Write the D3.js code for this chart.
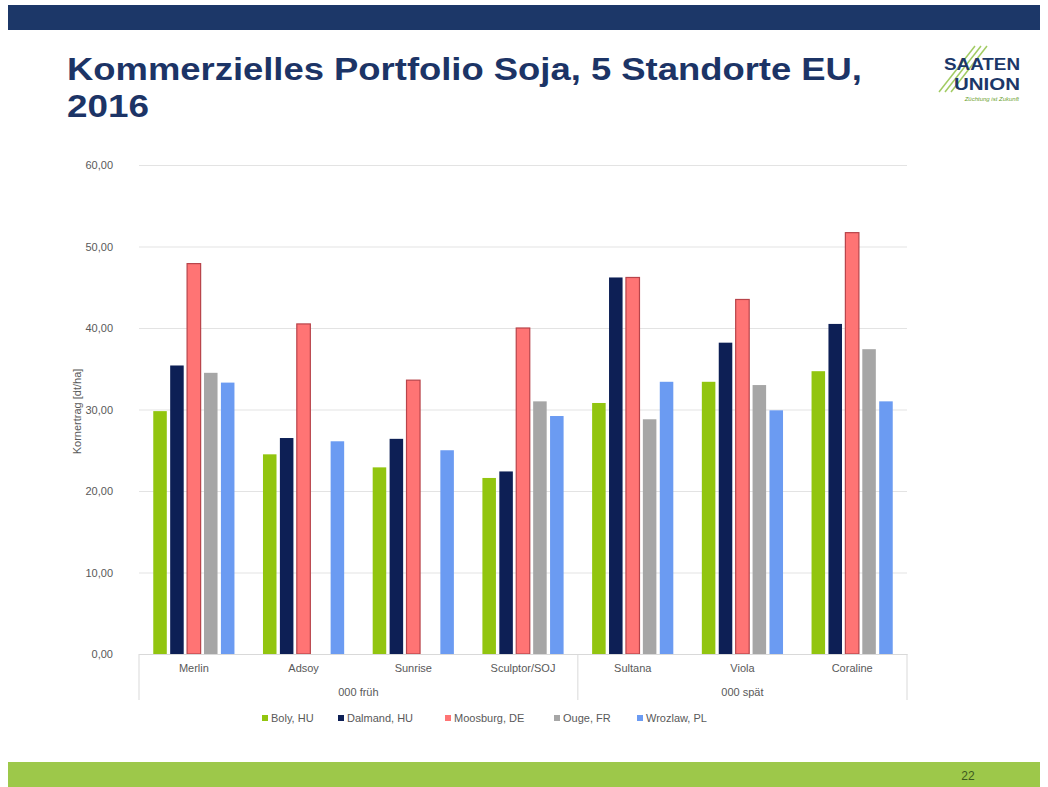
<!DOCTYPE html>
<html>
<head>
<meta charset="utf-8">
<script src="https://cdn.jsdelivr.net/npm/d3@7"></script>
<style>
  body { margin: 0; background: #fff; }
  svg { display: block; font-family: "Liberation Sans", Arial, sans-serif; }
</style>
</head>
<body>
<svg id="slide"></svg>
<script>
// Kornertrag [dt/ha] je Sorte und Standort
const categories = ["Merlin", "Adsoy", "Sunrise", "Sculptor/SOJ", "Sultana", "Viola", "Coraline"];
const groups = [
    {name: "000 früh", cats: ["Merlin", "Adsoy", "Sunrise", "Sculptor/SOJ"]},
    {name: "000 spät", cats: ["Sultana", "Viola", "Coraline"]}
];
const series = ["Boly, HU", "Dalmand, HU", "Moosburg, DE", "Ouge, FR", "Wrozlaw, PL"];
const boly     = [29.8, 24.5, 22.9, 21.6, 30.8, 33.4, 34.7];
const dalmand  = [35.4, 26.5, 26.4, 22.4, 46.2, 38.2, 40.5];
const moosburg = [47.9, 40.5, 33.6, 40.0, 46.2, 43.5, 51.7];
const ouge     = [34.5, null, null, 31.0, 28.8, 33.0, 37.4];
const wrozlaw  = [33.3, 26.1, 25.0, 29.2, 33.4, 29.9, 31.0];
const yTicks = [0, 10, 20, 30, 40, 50, 60];

const colors = ["#92c50f", "#0d1f55", "#ff7474", "#a6a6a6", "#6b9bf2"];
const strokes = [null, null, "#b8444a", null, null];

const W = 1048, H = 787;
const svg = d3.select("#slide").attr("width", W).attr("height", H);

// slide frame
svg.append("rect").attr("x", 8).attr("y", 5).attr("width", 1032).attr("height", 25).attr("fill", "#1c3768");
svg.append("rect").attr("x", 8).attr("y", 762).attr("width", 1032).attr("height", 25).attr("fill", "#9dc84a");
svg.append("text").attr("x", 968).attr("y", 780).attr("text-anchor", "middle")
    .attr("font-size", 12).attr("fill", "#3d5a1e").text("22");

// title
const title = svg.append("g").attr("fill", "#1c3466").attr("font-weight", "bold").attr("font-size", 31);
title.append("text").attr("x", 67).attr("y", 80)
    .attr("textLength", 795).attr("lengthAdjust", "spacingAndGlyphs")
    .text("Kommerzielles Portfolio Soja, 5 Standorte EU,");
title.append("text").attr("x", 67).attr("y", 117)
    .attr("textLength", 82).attr("lengthAdjust", "spacingAndGlyphs")
    .text("2016");

// logo
const logo = svg.append("g").attr("transform", "translate(935,40)");
[0, 6, 12].forEach(o => {
    logo.append("line").attr("x1", 4 + o).attr("y1", 52).attr("x2", 40 + o).attr("y2", 6)
        .attr("stroke", "#8bbf3c").attr("stroke-width", 1.5).attr("opacity", 0.8);
});
logo.append("text").attr("x", 85).attr("y", 30).attr("text-anchor", "end")
    .attr("font-weight", "bold").attr("font-size", 17).attr("fill", "#1c3768")
    .attr("textLength", 76).attr("lengthAdjust", "spacingAndGlyphs").text("SAATEN");
logo.append("text").attr("x", 85).attr("y", 50).attr("text-anchor", "end")
    .attr("font-weight", "bold").attr("font-size", 17).attr("fill", "#1c3768")
    .attr("textLength", 66).attr("lengthAdjust", "spacingAndGlyphs").text("UNION");
logo.append("text").attr("x", 84).attr("y", 61).attr("text-anchor", "end")
    .attr("font-size", 6).attr("font-style", "italic").attr("fill", "#6aa02c")
    .text("Züchtung ist Zukunft");

// chart
const pLeft = 139, pRight = 907, pTop = 165, pBottom = 654;
const locale = d3.formatLocale({decimal: ",", thousands: ".", grouping: [3], currency: ["", " €"]});
const fmt = locale.format(".2f");

const x0 = d3.scaleBand().domain(categories).range([pLeft, pRight]).padding(0);
const x1 = d3.scaleBand().domain(series)
    .range([x0.bandwidth() * 0.13, x0.bandwidth() * 0.87]).paddingInner(0.2);
const y = d3.scaleLinear().domain([0, 60]).range([pBottom, pTop]);

const chart = svg.append("g");

chart.append("g")
    .attr("transform", `translate(${pLeft},0)`)
    .call(d3.axisLeft(y).tickValues(yTicks).tickSize(-(pRight - pLeft)).tickFormat(fmt).tickPadding(26))
    .call(g => g.select(".domain").remove())
    .call(g => g.selectAll(".tick line").attr("stroke", "#e3e3e3"))
    .call(g => g.selectAll(".tick text").attr("fill", "#595959").attr("font-size", 11)
        .attr("font-family", "'Liberation Sans', Arial, sans-serif"));

const table = [boly, dalmand, moosburg, ouge, wrozlaw];
const rows = [];
categories.forEach((c, i) => {
    series.forEach((s, j) => {
        if (table[j][i] != null) rows.push({cat: c, s: s, j: j, v: table[j][i]});
    });
});

chart.append("g").selectAll("rect")
    .data(rows)
    .join("rect")
    .attr("x", d => x0(d.cat) + x1(d.s))
    .attr("y", d => y(d.v))
    .attr("width", x1.bandwidth())
    .attr("height", d => y(0) - y(d.v))
    .attr("fill", d => colors[d.j])
    .attr("stroke", d => strokes[d.j] || "none")
    .attr("stroke-width", 1.2);

// category axis (two levels)
chart.append("g").attr("transform", `translate(0,${pBottom})`)
    .call(d3.axisBottom(x0).tickSize(0).tickPadding(10))
    .call(g => g.select(".domain").attr("stroke", "#d9d9d9"))
    .call(g => g.selectAll(".tick text").attr("fill", "#595959").attr("font-size", 11)
        .attr("font-family", "'Liberation Sans', Arial, sans-serif"));

const bounds = [pLeft];
groups.forEach(gr => bounds.push(x0(gr.cats[gr.cats.length - 1]) + x0.bandwidth()));
chart.append("g").selectAll("line")
    .data(bounds)
    .join("line")
    .attr("x1", d => d).attr("x2", d => d)
    .attr("y1", pBottom).attr("y2", pBottom + 46)
    .attr("stroke", "#d9d9d9");

chart.append("g").selectAll("text")
    .data(groups)
    .join("text")
    .attr("x", d => (x0(d.cats[0]) + x0(d.cats[d.cats.length - 1]) + x0.bandwidth()) / 2)
    .attr("y", pBottom + 42)
    .attr("text-anchor", "middle")
    .attr("fill", "#595959").attr("font-size", 11)
    .text(d => d.name);

// y label
chart.append("text")
    .attr("transform", `translate(81,${(pTop + pBottom) / 2 + 2}) rotate(-90)`)
    .attr("text-anchor", "middle")
    .attr("fill", "#595959").attr("font-size", 11)
    .text("Kornertrag [dt/ha]");

// legend
const legendX = [262, 338, 445, 554, 637];
const legend = chart.append("g").selectAll("g")
    .data(series)
    .join("g")
    .attr("transform", (d, i) => `translate(${legendX[i]},718)`);
legend.append("rect").attr("x", 0).attr("y", -3).attr("width", 6).attr("height", 6)
    .attr("fill", (d, i) => colors[i]);
legend.append("text").attr("x", 9).attr("y", 4)
    .attr("fill", "#595959").attr("font-size", 11)
    .text(d => d);
</script>
</body>
</html>
